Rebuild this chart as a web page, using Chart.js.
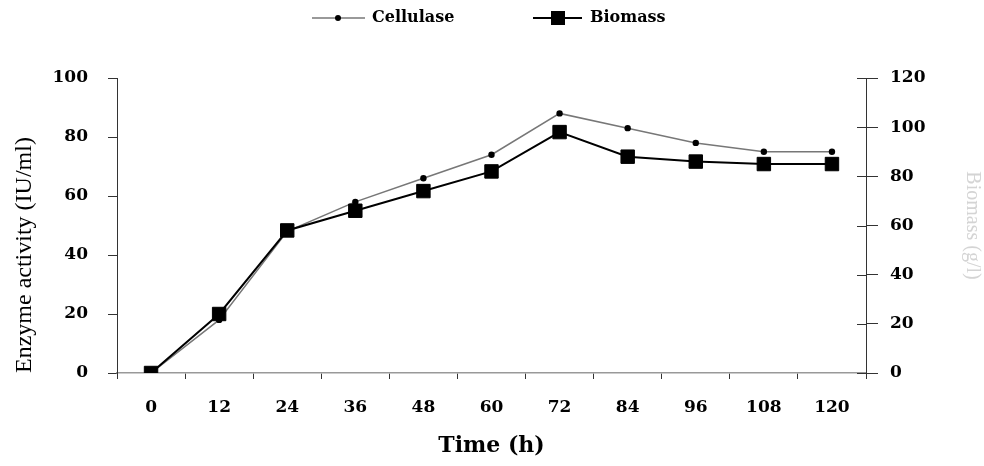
<!DOCTYPE html>
<html>
<head>
<meta charset="utf-8">
<script src="https://cdn.jsdelivr.net/npm/chart.js@4"></script>
<style>
  html, body { margin: 0; padding: 0; background: #fff; }
  #wrap { width: 984px; height: 466px; }
</style>
</head>
<body>
<div id="wrap"><canvas id="grafico" width="984" height="466"></canvas></div>
<script>
// dados
const horas = ['0', '12', '24', '36', '48', '60', '72', '84', '96', '108', '120'];
const celulase = [0, 18, 48, 58, 66, 74, 88, 83, 78, 75, 75];   // eixo esquerdo (IU/ml)
const biomassa = [0, 24, 58, 66, 74, 82, 98, 88, 86, 85, 85];   // eixo direito
const ticksEsq = [0, 20, 40, 60, 80, 100];
const ticksDir = [0, 20, 40, 60, 80, 100, 120];

const FONTE = '"DejaVu Serif", "Liberation Serif", serif';

/** legenda desenhada à mão: linha + marcador + texto */
const legendaPlugin = {
  id: 'legendaLinha',
  afterDraw(chart) {
    const ctx = chart.ctx, y = 18;
    ctx.save();
    // Cellulase
    ctx.strokeStyle = '#777'; ctx.lineWidth = 1.5;
    ctx.beginPath(); ctx.moveTo(312, y); ctx.lineTo(365, y); ctx.stroke();
    ctx.fillStyle = '#000';
    ctx.beginPath(); ctx.arc(338, y, 3, 0, Math.PI * 2); ctx.fill();
    // Biomass
    ctx.strokeStyle = '#000'; ctx.lineWidth = 2;
    ctx.beginPath(); ctx.moveTo(533, y); ctx.lineTo(582, y); ctx.stroke();
    ctx.fillRect(551, y - 7, 14, 14);
    ctx.font = 'bold 16px ' + FONTE;
    ctx.textBaseline = 'middle';
    ctx.fillText('Cellulase', 372, y);
    ctx.fillText('Biomass', 590, y);
    ctx.restore();
  }
};

/** marcas internas do eixo direito (cruzam a linha) */
const marcasDir = {
  id: 'marcasDir',
  afterDraw(chart) {
    const s = chart.scales.y1, ctx = chart.ctx;
    ctx.save();
    ctx.strokeStyle = '#333'; ctx.lineWidth = 1;
    s.ticks.forEach((t, i) => {
      const py = Math.round(s.getPixelForTick(i)) + 0.5;
      ctx.beginPath(); ctx.moveTo(s.left - 9, py); ctx.lineTo(s.left, py); ctx.stroke();
    });
    ctx.restore();
  }
};

new Chart(document.getElementById('grafico').getContext('2d'), {
  type: 'line',
  data: {
    labels: horas,
    datasets: [
      { label: 'Biomass', data: biomassa, yAxisID: 'y1', borderColor: '#000', backgroundColor: '#000',
        borderWidth: 2, pointStyle: 'rect', pointRadius: 9.5, pointBorderWidth: 1, tension: 0, order: 1 },
      { label: 'Cellulase', data: celulase, yAxisID: 'y', borderColor: '#777', backgroundColor: '#000',
        pointBackgroundColor: '#000', pointBorderColor: '#000',
        borderWidth: 1.5, pointStyle: 'circle', pointRadius: 3.2, pointBorderWidth: 0, tension: 0, order: 2 }
    ]
  },
  options: {
    responsive: false, animation: false,
    layout: { padding: { top: 78, left: 0, right: 0, bottom: 0 } },
    plugins: { legend: { display: false }, tooltip: { enabled: false } },
    scales: {
      x: {
        type: 'category', offset: true,
        grid: { drawOnChartArea: false, offset: true, tickLength: 6, color: '#333' },
        border: { color: '#999', width: 1.5 },
        ticks: { color: '#000', padding: 18, font: { family: FONTE, size: 17, weight: 'bold' }, maxRotation: 0 },
        title: { display: true, text: 'Time (h)', color: '#000', padding: { top: 0, bottom: 7 },
          font: { family: FONTE, size: 22, weight: 'bold' } },
        afterFit: s => { s.width = s.width; s.height = 93; }
      },
      y: {
        position: 'left', min: 0, max: 100,
        afterBuildTicks: s => { s.ticks = ticksEsq.map(v => ({ value: v })); },
        grid: { drawOnChartArea: false, tickLength: 9, color: '#333' },
        border: { color: '#333', width: 1 },
        ticks: { color: '#000', padding: 20, font: { family: FONTE, size: 17, weight: 'bold' } },
        title: { display: true, text: 'Enzyme activity (IU/ml)', color: '#000', align: 'start',
          padding: { top: 10, bottom: 0 },
          font: { family: '"Liberation Serif", serif', size: 24 } },
        afterFit: s => { s.width = 117; }
      },
      y1: {
        position: 'right', min: 0, max: 120,
        afterBuildTicks: s => { s.ticks = ticksDir.map(v => ({ value: v })); },
        grid: { drawOnChartArea: false, tickLength: 12, color: '#333' },
        border: { color: '#333', width: 1 },
        ticks: { color: '#000', padding: 12, font: { family: FONTE, size: 17, weight: 'bold' } },
        title: { display: true, text: 'Biomass (g/l)', color: '#d4d4d4', padding: { top: 0, bottom: 14 },
          font: { family: '"Liberation Serif", serif', size: 20 } },
        afterFit: s => { s.width = 118; }
      }
    }
  },
  plugins: [legendaPlugin, marcasDir]
});
</script>
</body>
</html>
